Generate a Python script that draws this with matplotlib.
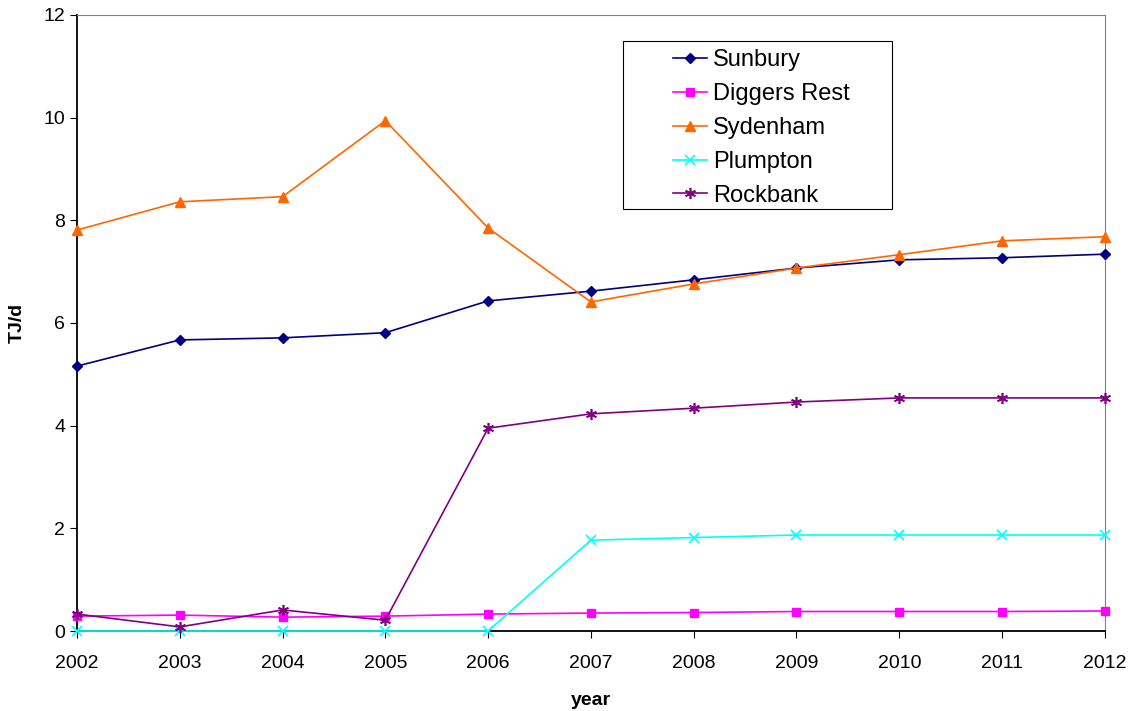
import matplotlib
matplotlib.use("Agg")
import matplotlib.pyplot as plt
from matplotlib.patches import Rectangle

plt.rcParams['font.family'] = ['Liberation Sans', 'DejaVu Sans']

years = [2002, 2003, 2004, 2005, 2006, 2007, 2008, 2009, 2010, 2011, 2012]
sunbury = [5.16, 5.67, 5.71, 5.81, 6.43, 6.62, 6.84, 7.07, 7.23, 7.27, 7.34]
diggers_rest = [0.29, 0.31, 0.27, 0.29, 0.33, 0.35, 0.36, 0.38, 0.38, 0.38, 0.39]
sydenham = [7.81, 8.36, 8.46, 9.94, 7.85, 6.41, 6.76, 7.07, 7.33, 7.60, 7.68]
plumpton = [0.0, 0.0, 0.0, 0.0, 0.0, 1.77, 1.82, 1.87, 1.87, 1.87, 1.87]
rockbank = [0.33, 0.08, 0.41, 0.21, 3.95, 4.23, 4.34, 4.46, 4.54, 4.54, 4.54]

fig = plt.figure(figsize=(11.32, 7.11), dpi=100)
ax = fig.add_axes([0.068, 0.1125, 0.908, 0.8665])

kw = dict(lw=1.2, clip_on=False, zorder=3)
ax.plot(years, sunbury, color='#000080', marker='D', ms=5, label='Sunbury', **kw)
ax.plot(years, diggers_rest, color='#FF00FF', marker='s', ms=6, label='Diggers Rest', **kw)
ax.plot(years, sydenham, color='#FF6600', marker='^', ms=7, label='Sydenham', **kw)
ax.plot(years, plumpton, color='#00FFFF', marker='x', ms=6.5, mew=1.2, label='Plumpton', **kw)
ax.plot(years, rockbank, color='#800080', marker=(6, 2, 0), ms=8, mew=1.2, label='Rockbank', **kw)

ax.set_xlim(2002, 2012)
ax.set_ylim(0, 12)
ax.set_xticks(years)
ax.set_yticks(range(0, 13, 2))
ax.tick_params(labelsize=14, direction='out', length=5)
ax.tick_params(axis='x', pad=12)
ax.set_xlabel('year', fontsize=14, fontweight='bold', labelpad=15)
ax.set_ylabel('TJ/d', fontsize=14, fontweight='bold')
ax.yaxis.set_label_coords(-0.05, 0.5)

for s in ['top', 'right']:
    ax.spines[s].set_color('#808080')
for s in ['left', 'bottom']:
    ax.spines[s].set_color('black')
    ax.spines[s].set_linewidth(1.3)

# legend frame drawn separately (wide left margin like the original)
ax.add_patch(Rectangle((0.531, 0.685), 0.262, 0.273, transform=ax.transAxes,
                       facecolor='white', edgecolor='black', lw=0.8, zorder=4))
leg = ax.legend(loc='upper left', bbox_to_anchor=(0.580, 0.944), fontsize=17,
                frameon=False, borderpad=0, handlelength=1.45, handletextpad=0.25,
                labelspacing=0.5, borderaxespad=0)
leg.set_zorder(5)

fig.savefig('out.png', dpi=100)
